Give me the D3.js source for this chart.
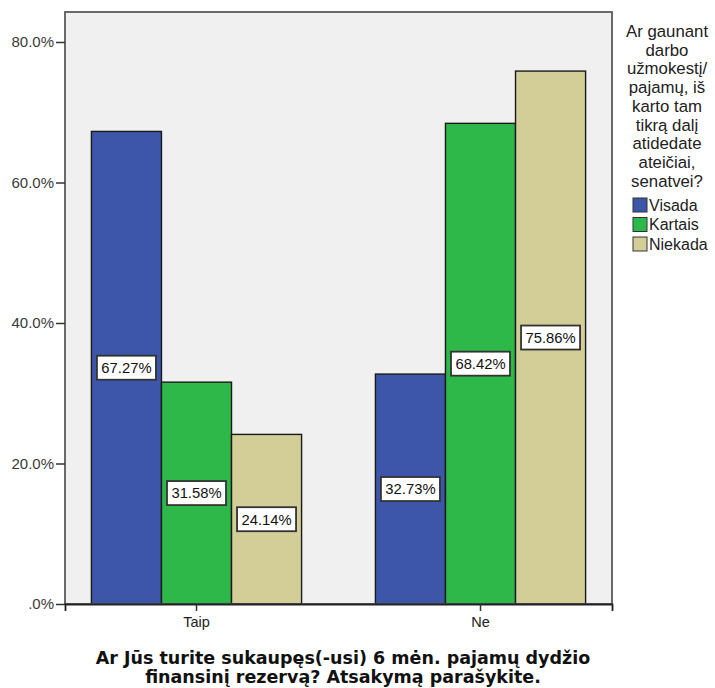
<!DOCTYPE html>
<html>
<head>
<meta charset="utf-8">
<script src="https://cdn.jsdelivr.net/npm/d3@7"></script>
<style>
  html, body { margin: 0; padding: 0; background: #ffffff; }
  svg { display: block; }
</style>
</head>
<body>
<div id="chart"></div>
<script>
// Categories of the x axis and the grouping variable
const categories = ["Taip", "Ne"];
const seriesNames = ["Visada", "Kartais", "Niekada"];
// Percentages per series, in the order of categories
const visada = [67.27, 32.73];
const kartais = [31.58, 68.42];
const niekada = [24.14, 75.86];
const seriesValues = [visada, kartais, niekada];
const seriesColors = ["#3d56aa", "#2fb84a", "#d3cd98"];
const yTicks = [0, 20, 40, 60, 80];

const legendTitle = ["Ar gaunant", "darbo", "užmokestį/", "pajamų, iš", "karto tam",
  "tikrą dalį", "atidedate", "ateičiai,", "senatvei?"];
const xTitle = ["Ar Jūs turite sukaupęs(-usi) 6 mėn. pajamų dydžio",
  "finansinį rezervą? Atsakymą parašykite."];

const W = 715, H = 688;
const plot = { left: 65, right: 612, top: 12, bottom: 604 };
const sans = "'Liberation Sans', Arial, sans-serif";

const svg = d3.select("#chart").append("svg")
  .attr("width", W).attr("height", H);

const x0 = d3.scaleBand().domain(categories)
  .range([plot.left, plot.right]).paddingInner(0.26).paddingOuter(0.093);
const x1 = d3.scaleBand().domain(seriesNames)
  .range([0, x0.bandwidth()]).padding(0);
const y = d3.scaleLinear().domain([0, 84.27]).range([plot.bottom, plot.top]);

// plot background
svg.append("rect")
  .attr("x", plot.left).attr("y", plot.top)
  .attr("width", plot.right - plot.left).attr("height", plot.bottom - plot.top)
  .attr("fill", "#f0f0f0");

// bars
const rows = [];
seriesNames.forEach((s, si) => {
  categories.forEach((c, ci) => {
    rows.push({ series: s, cat: c, value: seriesValues[si][ci], color: seriesColors[si] });
  });
});

svg.append("g").selectAll("rect").data(rows).join("rect")
  .attr("x", d => x0(d.cat) + x1(d.series))
  .attr("y", d => y(d.value))
  .attr("width", x1.bandwidth())
  .attr("height", d => y(0) - y(d.value))
  .attr("fill", d => d.color)
  .attr("stroke", "#1a1a1a")
  .attr("stroke-width", 1.4);

// value labels in boxes at mid-height of each bar
const lab = svg.append("g").selectAll("g").data(rows).join("g")
  .attr("transform", d => `translate(${x0(d.cat) + x1(d.series) + x1.bandwidth() / 2},${y(d.value / 2)})`);
lab.append("rect")
  .attr("x", -29.5).attr("y", -12).attr("width", 59).attr("height", 24)
  .attr("fill", "#ffffff").attr("stroke", "#333333").attr("stroke-width", 1.8);
lab.append("text")
  .attr("text-anchor", "middle").attr("dy", "0.36em")
  .attr("font-family", sans).attr("font-size", 14.8).attr("fill", "#111")
  .text(d => d.value.toFixed(2) + "%");

// frame
svg.append("rect")
  .attr("x", plot.left).attr("y", plot.top)
  .attr("width", plot.right - plot.left).attr("height", plot.bottom - plot.top)
  .attr("fill", "none").attr("stroke", "#5a5a5a").attr("stroke-width", 1.8);

// y axis
const fmt = v => v === 0 ? ".0%" : v.toFixed(1) + "%";
const yAxis = svg.append("g")
  .attr("transform", `translate(${plot.left},0)`)
  .call(d3.axisLeft(y).tickValues(yTicks).tickFormat(fmt).tickSize(9).tickPadding(2));
yAxis.select(".domain").remove();
yAxis.selectAll(".tick line").attr("stroke", "#333").attr("stroke-width", 1.5);
yAxis.selectAll(".tick text").attr("font-family", sans).attr("font-size", 15)
  .attr("fill", "#3a3a3a");

// x axis
const xAxis = svg.append("g")
  .attr("transform", `translate(0,${plot.bottom})`)
  .call(d3.axisBottom(x0).tickSize(7).tickPadding(6));
xAxis.select(".domain").attr("stroke", "#222").attr("stroke-width", 1.8);
xAxis.selectAll(".tick line").attr("stroke", "#333").attr("stroke-width", 1.5);
xAxis.selectAll(".tick text").attr("font-family", sans).attr("font-size", 14.5)
  .attr("fill", "#222");

// x axis title
svg.append("g").selectAll("text").data(xTitle).join("text")
  .attr("x", 343).attr("y", (d, i) => 664 + i * 19)
  .attr("text-anchor", "middle")
  .attr("font-family", "'DejaVu Sans', Verdana, sans-serif")
  .attr("font-weight", "bold").attr("font-size", 17.5).attr("fill", "#111")
  .text(d => d);

// legend title
svg.append("g").selectAll("text").data(legendTitle).join("text")
  .attr("x", 667).attr("y", (d, i) => 37 + i * 18.7)
  .attr("text-anchor", "middle")
  .attr("font-family", sans).attr("font-size", 16.8).attr("fill", "#222")
  .text(d => d);

// legend items
const leg = svg.append("g").selectAll("g").data(seriesNames).join("g")
  .attr("transform", (d, i) => `translate(633,${198 + i * 19.5})`);
leg.append("rect")
  .attr("width", 14).attr("height", 14)
  .attr("fill", (d, i) => seriesColors[i])
  .attr("stroke", "#333").attr("stroke-width", 1);
leg.append("text")
  .attr("x", 16).attr("y", 7).attr("dy", "0.36em")
  .attr("font-family", sans).attr("font-size", 16).attr("fill", "#222")
  .text(d => d);
</script>
</body>
</html>
